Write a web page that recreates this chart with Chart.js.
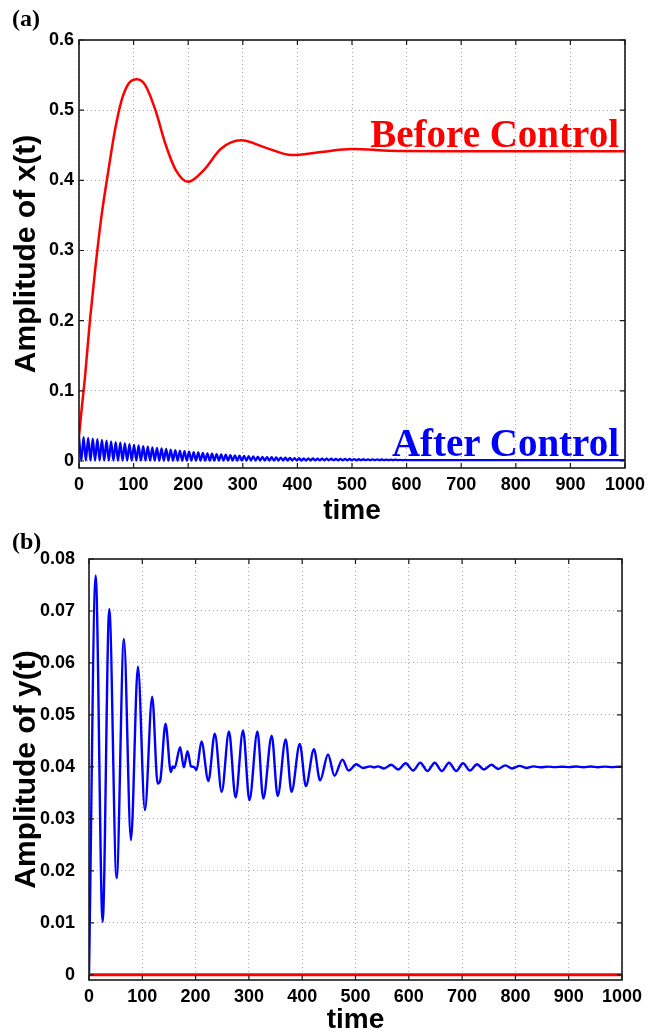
<!DOCTYPE html>
<html><head><meta charset="utf-8">
<script src="https://cdn.jsdelivr.net/npm/chart.js@4.4.0/dist/chart.umd.min.js"></script>
<style>
body{margin:0;background:#fff;width:659px;height:1036px;position:relative;overflow:hidden}
canvas{position:absolute;left:0}
#ca{top:0}
#cb{top:530px}
.lbl{position:absolute;font-family:"Liberation Serif",serif;font-weight:bold;white-space:nowrap;line-height:1}
</style></head><body>
<canvas id="ca" width="659" height="530"></canvas>
<canvas id="cb" width="659" height="506"></canvas>
<div class="lbl" style="left:12px;top:6px;font-size:24px;color:#000">(a)</div>
<div class="lbl" style="left:12px;top:529px;font-size:24px;color:#000">(b)</div>
<div class="lbl" style="right:40px;top:114px;font-size:39px;color:#ff0000">Before Control</div>
<div class="lbl" style="right:40px;top:423px;font-size:39px;color:#0000ff">After Control</div>
<script>
// ---------- DATA ----------
const xTicks = [0,100,200,300,400,500,600,700,800,900,1000];
const xTickLabels = ['0','100','200','300','400','500','600','700','800','900','1000'];
const yTicksA = [0,0.1,0.2,0.3,0.4,0.5,0.6];
const yTickLabelsA = ['0','0.1','0.2','0.3','0.4','0.5','0.6'];
const yTicksB = [0,0.01,0.02,0.03,0.04,0.05,0.06,0.07,0.08];
const yTickLabelsB = ['0','0.01','0.02','0.03','0.04','0.05','0.06','0.07','0.08'];

// (a) x(t) before control
const xBeforeT = [0,5,11,20,29.5,41,54,66,78,91,106,121,140,158,177,200,229,260,297,340,390,440,500,585,700,1000];
const xBeforeV = [0.035,0.075,0.12,0.20,0.272,0.348,0.415,0.472,0.514,0.538,0.544,0.536,0.50,0.4525,0.415,0.398,0.415,0.445,0.457,0.447,0.436,0.440,0.4445,0.4418,0.4416,0.4416];

// (a) x(t) after control (peaks and troughs)
const xAfterT = [0,4.2,8.4,12.6,16.8,21,25.2,29.4,33.6,37.8,42,46.2,50.4,54.6,58.8,63,67.2,71.4,75.6,79.8,84,88.2,92.4,96.6,100.8,105,109.2,113.4,117.6,121.8,126,130.2,134.4,138.6,142.8,147,151.2,155.4,159.6,163.8,168,172.2,176.4,180.6,184.8,189,193.2,197.4,201.6,205.8,210,214.2,218.4,222.6,226.8,231,235.2,239.4,243.6,247.8,252,256.2,260.4,264.6,268.8,273,277.2,281.4,285.6,289.8,294,298.2,302.4,306.6,310.8,315,319.2,323.4,327.6,331.8,336,340.2,344.4,348.6,352.8,357,361.2,365.4,369.6,373.8,378,382.2,386.4,390.6,394.8,399,403.2,407.4,411.6,415.8,420,424.2,428.4,432.6,436.8,441,445.2,449.4,453.6,457.8,462,466.2,470.4,474.6,478.8,483,487.2,491.4,495.6,499.8,504,508.2,512.4,516.6,520.8,525,529.2,533.4,537.6,541.8,546,550.2,554.4,558.6,562.8,567,571.2,575.4,579.6,583.8,588,592.2,596.4,600.6,700,1000];
const xAfterV = [0.0350,0.0005,0.0340,0.0005,0.0330,0.0005,0.0320,0.0005,0.0310,0.0005,0.0300,0.0005,0.0290,0.0005,0.0280,0.0005,0.0270,0.0005,0.0260,0.0005,
0.0250,0.0005,0.0241,0.0005,0.0231,0.0005,0.0222,0.0005,0.0213,0.0005,0.0204,0.0005,0.0195,0.0005,0.0187,0.0005,0.0179,0.0005,0.0171,0.0005,
0.0163,0.0005,0.0156,0.0005,0.0149,0.0005,0.0141,0.0005,0.0134,0.0005,0.0127,0.0005,0.0121,0.0005,0.0115,0.0005,0.0109,0.0005,0.0104,0.0005,
0.0099,0.0005,0.0094,0.0005,0.0089,0.0005,0.0084,0.0005,0.0080,0.0005,0.0076,0.0005,0.0072,0.0007,0.0068,0.0007,0.0065,0.0007,0.0062,0.0007,
0.0059,0.0007,0.0056,0.0007,0.0053,0.0007,0.0051,0.0007,0.0048,0.0007,0.0046,0.0007,0.0044,0.0007,0.0042,0.0007,0.0040,0.0007,0.0038,0.0007,
0.0037,0.0007,0.0036,0.0009,0.0035,0.0009,0.0034,0.0009,0.0033,0.0009,0.0032,0.0009,0.0031,0.0009,0.0030,0.0009,0.0029,0.0009,0.0028,0.0009,
0.0027,0.0009,0.0026,0.0011,0.0025,0.0011,0.0024,0.0011,0.0023,0.0011,0.0022,0.0011,0.0021,0.0011,0.0020,0.0011,0.0019,0.0011,0.0018,0.0011,
0.0017,0.0011,0.0016,0.0012,0.0013,0.0013];

// (b) y(t) before control (red) and after control (blue)
const yBeforeT = [0,1000];
const yBeforeV = [0,0];
const yAfterT = [0,12.5,25.6,38,51.8,65.5,78.7,91.8,104.9,118.6,128.8,133.5,143.6,153.6,157,160.5,171,178,184.8,191.5,197,201.8,211,224,236,249,262.6,275,289,301,316,327,342.8,354,369,380,395.5,407,422,433.5,448.5,460.5,475.5,487,501.5,514,528,535,542,553.5,567,580,594,608,621.7,635,648.6,662,675.5,689,701.7,714.5,728,741,755,767.6,781,794,808,820.5,834,847,861,874,888,901,914,928,941,955,968,982,995,1000];
const yAfterV = [0,0.0768,0.0102,0.0704,0.0186,0.0646,0.0259,0.0593,0.0317,0.0535,0.0368,0.0373,0.0483,0.0390,0.0401,0.0398,0.0438,0.0399,0.0430,0.0401,0.0400,0.0394,0.0449,0.0373,0.0464,0.0352,0.0468,0.0341,0.0470,0.0336,0.0468,0.0339,0.0460,0.0344,0.0453,0.0352,0.0444,0.0363,0.0434,0.0374,0.0424,0.0383,0.0414,0.0393,0.0405,0.0398,0.0401,0.0399,0.0401,0.0397,0.0404,0.0395,0.0407,0.0393,0.0408,0.0392,0.0408,0.0392,0.0408,0.0392,0.0407,0.0393,0.0405,0.0395,0.0404,0.0396,0.0403,0.0397,0.0402,0.0398,0.0401,0.03993,0.04005,0.03995,0.04004,0.03996,0.04008,0.03994,0.04008,0.03994,0.04006,0.03996,0.04004,0.0400];

// ---------- CHARTS ----------
const pts = (T, V) => T.map((t, i) => ({x: t, y: V[i]}));
const tickFont = {family: 'Liberation Sans', weight: 'bold', size: 18};
const xTitleFont = {family: 'Liberation Sans', weight: 'bold', size: 28, lineHeight: 1};
const yTitleFont = {family: 'Liberation Sans', weight: 'bold', size: 30, lineHeight: 1};

const framePlugin = {
  id: 'frame',
  afterDraw(chart) {
    const {ctx, chartArea: {left, right, top, bottom}, scales: {x, y}} = chart;
    ctx.save();
    ctx.strokeStyle = '#1a1a1a';
    ctx.lineWidth = 1.2;
    ctx.beginPath();
    x.ticks.forEach(t => {
      const px = x.getPixelForValue(t.value);
      ctx.moveTo(px, bottom); ctx.lineTo(px, bottom - 5);
      ctx.moveTo(px, top); ctx.lineTo(px, top + 5);
    });
    y.ticks.forEach(t => {
      const py = y.getPixelForValue(t.value);
      ctx.moveTo(left, py); ctx.lineTo(left + 5, py);
      ctx.moveTo(right, py); ctx.lineTo(right - 5, py);
    });
    ctx.stroke();
    ctx.lineWidth = 1.6;
    ctx.strokeRect(left, top, right - left, bottom - top);
    ctx.restore();
  }
};

function makeChart(id, cfg) {
  return new Chart(document.getElementById(id), {
    type: 'line',
    data: {datasets: cfg.datasets},
    options: {
      responsive: false,
      animation: false,
      events: [],
      layout: {padding: cfg.padding},
      plugins: {legend: {display: false}, tooltip: {enabled: false}},
      elements: {point: {radius: 0}},
      scales: {
        x: {
          type: 'linear', min: 0, max: 1000,
          afterBuildTicks: s => { s.ticks = xTicks.map(v => ({value: v})); },
          afterFit: s => { s.height = cfg.xHeight; },
          ticks: {font: tickFont, color: '#000', padding: 6, autoSkip: false, maxRotation: 0,
                  callback: (v, i) => xTickLabels[i]},
          grid: {color: '#aaaaaa', lineWidth: 1, drawTicks: false},
          border: {display: false, dash: [1, 3]},
          title: {display: true, text: 'time', font: xTitleFont, color: '#000', padding: {top: 0, bottom: cfg.xTitlePad}}
        },
        y: {
          type: 'linear', min: cfg.yMin, max: cfg.yMax,
          afterBuildTicks: s => { s.ticks = cfg.yTicks.map(v => ({value: v})); },
          afterFit: s => { s.width = cfg.yWidth; },
          ticks: {font: tickFont, color: '#000', padding: cfg.yTickPad,
                  callback: (v, i) => cfg.yLabels[i]},
          grid: {color: '#aaaaaa', lineWidth: 1, drawTicks: false},
          border: {display: false, dash: [1, 3]},
          title: {display: true, text: cfg.yTitle, font: yTitleFont, color: '#000', padding: {top: 12, bottom: 0}}
        }
      }
    },
    plugins: [framePlugin]
  });
}

makeChart('ca', {
  datasets: [
    {data: pts(xBeforeT, xBeforeV), borderColor: '#ff0000', borderWidth: 2.5, cubicInterpolationMode: 'monotone'},
    {data: pts(xAfterT, xAfterV), borderColor: '#0000ff', borderWidth: 2.3, cubicInterpolationMode: 'monotone'}
  ],
  padding: {left: 0, top: 40, right: 34, bottom: 0},
  xHeight: 62, yWidth: 79, yTickPad: 5, xTitlePad: 5,
  yMin: -0.01, yMax: 0.6, yTicks: yTicksA, yLabels: yTickLabelsA, yTitle: 'Amplitude of x(t)'
});

makeChart('cb', {
  datasets: [
    {data: pts(yBeforeT, yBeforeV), borderColor: '#ff0000', borderWidth: 3},
    {data: pts(yAfterT, yAfterV), borderColor: '#0000ff', borderWidth: 2.4, cubicInterpolationMode: 'monotone'}
  ],
  padding: {left: 0, top: 29, right: 37, bottom: 0},
  xHeight: 56, yWidth: 89, yTickPad: 14, xTitlePad: 2,
  yMin: -0.001, yMax: 0.08, yTicks: yTicksB, yLabels: yTickLabelsB, yTitle: 'Amplitude of y(t)'
});
</script>
</body></html>
